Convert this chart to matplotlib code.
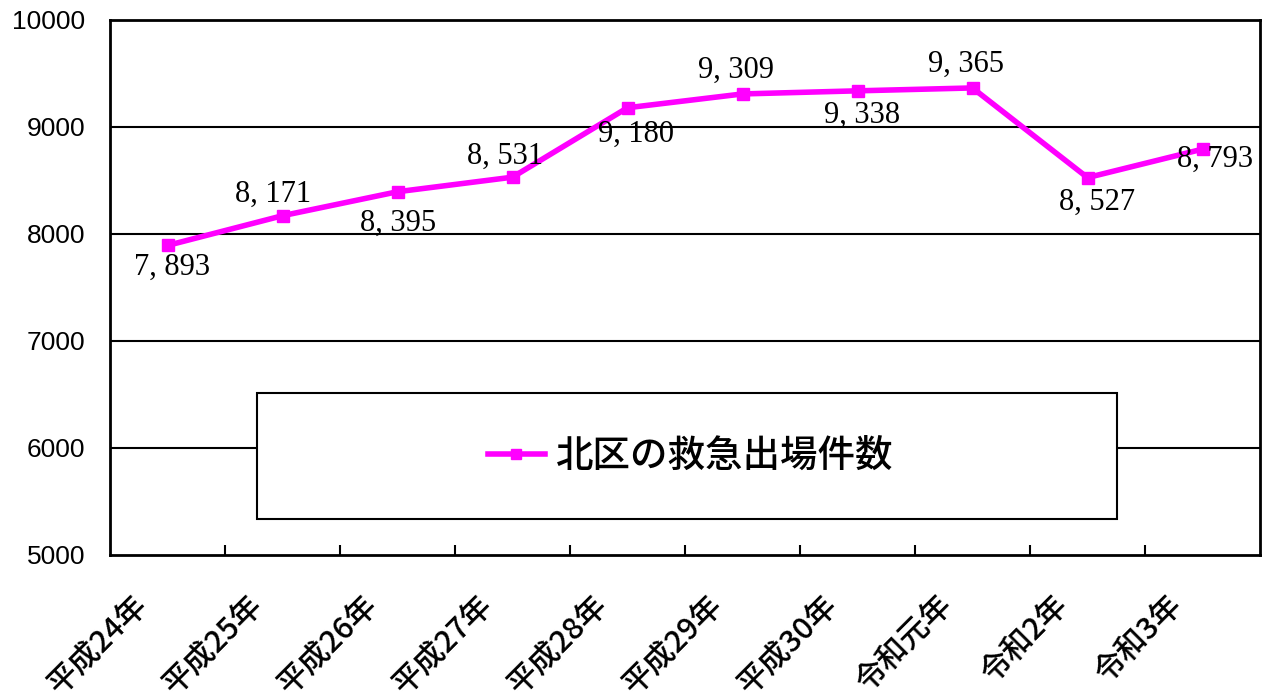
import matplotlib
matplotlib.use('Agg')
import matplotlib.pyplot as plt
import matplotlib.transforms as mtransforms
from matplotlib.patches import Rectangle

plt.rcParams['font.family'] = ['Liberation Sans', 'Noto Sans CJK JP']

# data
years = ['平成24年', '平成25年', '平成26年', '平成27年', '平成28年',
         '平成29年', '平成30年', '令和元年', '令和2年', '令和3年']
counts = [7893, 8171, 8395, 8531, 9180, 9309, 9338, 9365, 8527, 8793]
series_name = '北区の救急出場件数'
yticks = [5000, 6000, 7000, 8000, 9000, 10000]

# label offsets in pixels (dx, dy) relative to each point
label_off = [(5, -22), (-9, 21), (1, -32), (-7, 21), (8, -27),
             (-7, 24), (5, -24), (-7, 24), (10, -25), (13, -10)]

line_col = '#ff00ff'

fig = plt.figure(figsize=(12.73, 6.93), dpi=100)
ax = fig.add_axes([110/1273, 1-555/693, 1150/1273, 535/693])

x = list(range(len(counts)))
ax.plot(x, counts, color=line_col, lw=4, marker='s', ms=8.5,
        label=series_name, zorder=5, clip_on=False)

ax.set_xlim(-0.5, len(counts) - 0.5)
ax.set_ylim(5000, 10000)
ax.set_yticks(yticks)
ax.set_yticklabels([str(v) for v in yticks], fontsize=19, fontweight='medium')
ax.tick_params(axis='y', length=0, pad=18)
for v in yticks[1:-1]:
    ax.axhline(v, color='black', lw=1.5, zorder=1)

# category boundaries as major ticks, labels at centres as minor ticks
ax.set_xticks([i + 0.5 for i in range(len(counts) - 1)])
ax.set_xticklabels([])
ax.tick_params(axis='x', which='major', direction='in', length=7, width=1.5)
ax.set_xticks(x, minor=True)
ax.set_xticklabels(years, minor=True, rotation=45, ha='right', va='center',
                   rotation_mode='anchor', fontsize=22,
                   family=['Noto Sans CJK JP'], fontweight='medium')
ax.tick_params(axis='x', which='minor', length=0, pad=33)
shift = mtransforms.ScaledTranslation(-25/100, 0, fig.dpi_scale_trans)
for lab in ax.get_xticklabels(minor=True):
    lab.set_transform(lab.get_transform() + shift)

for s in ax.spines.values():
    s.set_linewidth(2)
    s.set_color('black')

# data labels
for xi, v, (dx, dy) in zip(x, counts, label_off):
    txt = f'{v // 1000}, {v % 1000:03d}'
    ax.annotate(txt, (xi, v), xytext=(dx * 0.72, dy * 0.72),
                textcoords='offset points', ha='center', va='center',
                fontsize=22, family=['Liberation Serif'], zorder=6)

# legend box
ax.add_patch(Rectangle((0.1278, 0.0673), 0.7479, 0.2355, transform=ax.transAxes,
                       facecolor='white', edgecolor='black', lw=1.5, zorder=3))
leg = ax.legend(loc='center', bbox_to_anchor=(0.505, 0.185), frameon=False,
                prop={'family': ['Noto Sans CJK JP'], 'size': 27,
                      'weight': 'medium'},
                handlelength=1.5, handletextpad=0.3, markerscale=0.8)
leg.set_zorder(4)

fig.savefig('out.png', dpi=100)
